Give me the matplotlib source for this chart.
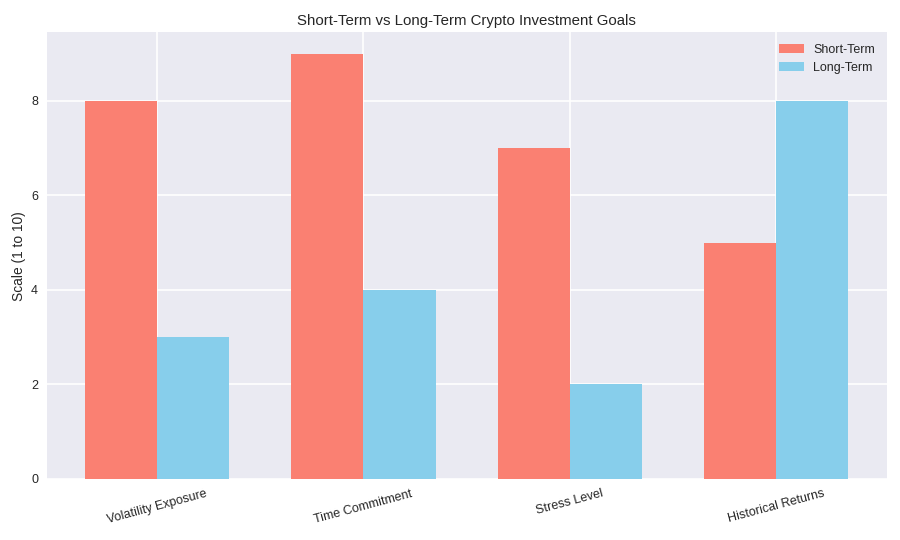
import numpy as np
import matplotlib

matplotlib.use("Agg")
import matplotlib.pyplot as plt

# ---------------------------------------------------------------------------
# Data
# ---------------------------------------------------------------------------
categories = ["Volatility Exposure", "Time Commitment", "Stress Level", "Historical Returns"]
short_term = [8, 9, 7, 5]
long_term = [3, 4, 2, 8]

plt.style.use("seaborn-v0_8")
plt.rcParams["font.family"] = ["Liberation Sans", "DejaVu Sans"]
plt.rcParams["grid.linewidth"] = 1.3

x = np.arange(len(categories))
width = 0.35

fig, ax = plt.subplots(figsize=(10, 6), dpi=90)
ax.bar(x - width / 2, short_term, width, label="Short-Term", color="salmon")
ax.bar(x + width / 2, long_term, width, label="Long-Term", color="skyblue")

ax.set_ylabel("Scale (1 to 10)")
ax.set_title("Short-Term vs Long-Term Crypto Investment Goals")
ax.set_xticks(x)
ax.set_xticklabels(categories, rotation=15)
ax.legend(loc="upper right")

fig.subplots_adjust(left=0.052, right=0.985, top=0.94, bottom=0.113)
fig.savefig("out.png", dpi=90)
